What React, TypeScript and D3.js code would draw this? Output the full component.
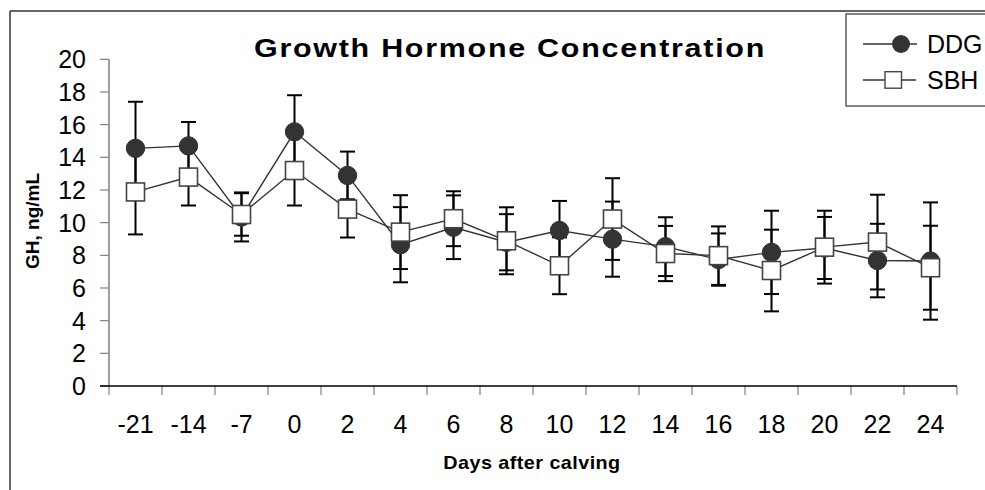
import React from "react";
import * as d3 from "d3";

const categories = ["-21", "-14", "-7", "0", "2", "4", "6", "8", "10", "12", "14", "16", "18", "20", "22", "24"];
const ddgValues = [14.55, 14.7, 10.35, 15.56, 12.89, 8.65, 9.72, 8.8, 9.52, 8.99, 8.53, 7.74, 8.18, 8.45, 7.68, 7.65];
const ddgErrors = [2.85, 1.46, 1.5, 2.24, 1.46, 2.3, 1.95, 1.72, 1.81, 2.3, 1.8, 1.6, 2.55, 1.9, 2.25, 3.59];
const sbhValues = [11.88, 12.79, 10.5, 13.19, 10.83, 9.42, 10.24, 8.89, 7.36, 10.22, 8.11, 7.98, 7.07, 8.5, 8.81, 7.24];
const sbhErrors = [2.6, 1.74, 1.3, 2.14, 1.74, 2.26, 1.68, 2.05, 1.74, 2.5, 1.69, 1.79, 2.5, 2.23, 2.9, 2.57];
const yTicks = [0, 2, 4, 6, 8, 10, 12, 14, 16, 18, 20];

const W = 985;
const H = 490;
const FONT = "'Liberation Sans', Arial, sans-serif";

export default function App() {
  const x = d3.scaleBand<string>().domain(categories).range([109, 957]).paddingInner(0).paddingOuter(0);
  const y = d3.scaleLinear().domain([0, 20]).range([386, 59.3]);
  const cx = (c: string) => (x(c) as number) + x.bandwidth() / 2;

  const line = d3
    .line<number>()
    .x((_, i) => cx(categories[i]))
    .y((d) => y(d));

  const capW = 7.5;
  const errBars = (vals: number[], errs: number[], key: string) =>
    vals.map((v, i) => {
      const px = cx(categories[i]);
      const top = y(v + errs[i]);
      const bot = y(v - errs[i]);
      return (
        <g key={key + i} stroke="#000" strokeWidth={2}>
          <line x1={px} x2={px} y1={top} y2={bot} />
          <line x1={px - capW} x2={px + capW} y1={top} y2={top} />
          <line x1={px - capW} x2={px + capW} y1={bot} y2={bot} />
        </g>
      );
    });

  const tickBoundaries = categories.map((c) => x(c) as number).concat([957]);

  return (
    <svg width={W} height={H} style={{ position: "absolute", left: 0, top: 0, background: "#fff" }}>
      <rect x={0} y={0} width={W} height={H} fill="#fff" />
      {/* outer chart border */}
      <line x1={10} x2={W + 5} y1={11} y2={11} stroke="#333" strokeWidth={1.5} />
      <line x1={10} x2={10} y1={11} y2={H + 5} stroke="#333" strokeWidth={1.5} />

      {/* title */}
      <text
        transform="translate(510,57) scale(1.15,1)"
        textAnchor="middle"
        fontFamily={FONT}
        fontWeight="bold"
        fontSize={26.5}
        letterSpacing={1.5}
        fill="#000"
      >
        Growth Hormone Concentration
      </text>

      {/* y axis */}
      <line x1={109} x2={109} y1={y(20)} y2={y(0)} stroke="#808080" strokeWidth={1.5} />
      {yTicks.map((t) => (
        <g key={"yt" + t}>
          <line x1={100} x2={109} y1={y(t)} y2={y(t)} stroke="#808080" strokeWidth={1.2} />
          <text x={86} y={y(t) + 9} textAnchor="end" fontFamily={FONT} fontSize={25} fill="#000">
            {t}
          </text>
        </g>
      ))}
      <text
        transform={`translate(39,221) rotate(-90)`}
        textAnchor="middle"
        fontFamily={FONT}
        fontWeight="bold"
        fontSize={19}
        fill="#000"
      >
        GH, ng/mL
      </text>

      {/* x axis */}
      {tickBoundaries.map((b, i) => (
        <line key={"xt" + i} x1={b} x2={b} y1={386} y2={395} stroke="#808080" strokeWidth={1.2} />
      ))}
      <line x1={100} x2={957} y1={386} y2={386} stroke="#000" strokeWidth={1.5} />
      {categories.map((c) => (
        <text key={"xl" + c} x={cx(c)} y={433} textAnchor="middle" fontFamily={FONT} fontSize={25} fill="#000">
          {c}
        </text>
      ))}
      <text
        transform="translate(532,469) scale(1.1,1)"
        textAnchor="middle"
        fontFamily={FONT}
        fontWeight="bold"
        fontSize={18}
        letterSpacing={0.4}
        fill="#000"
      >
        Days after calving
      </text>

      {/* series lines */}
      <path d={line(ddgValues) || ""} fill="none" stroke="#333" strokeWidth={1.4} />
      <path d={line(sbhValues) || ""} fill="none" stroke="#333" strokeWidth={1.4} />

      {/* error bars */}
      {errBars(ddgValues, ddgErrors, "de")}
      {errBars(sbhValues, sbhErrors, "se")}

      {/* markers */}
      {ddgValues.map((v, i) => (
        <circle key={"dm" + i} cx={cx(categories[i])} cy={y(v)} r={9.2} fill="#333" stroke="#333" strokeWidth={1} />
      ))}
      {sbhValues.map((v, i) => (
        <rect
          key={"sm" + i}
          x={cx(categories[i]) - 9}
          y={y(v) - 9}
          width={18}
          height={18}
          fill="#fff"
          stroke="#444"
          strokeWidth={1.6}
        />
      ))}

      {/* legend */}
      <rect x={846} y={14} width={200} height={92} fill="#fff" stroke="#333" strokeWidth={1.2} />
      <line x1={863} x2={917} y1={44} y2={44} stroke="#333" strokeWidth={1.4} />
      <circle cx={901} cy={44} r={9} fill="#333" />
      <text x={927} y={53} fontFamily={FONT} fontSize={25} fill="#000">
        DDG
      </text>
      <line x1={863} x2={916} y1={80} y2={80} stroke="#333" strokeWidth={1.4} />
      <rect x={885} y={71.7} width={16.5} height={16.5} fill="#fff" stroke="#444" strokeWidth={1.4} />
      <text x={927} y={89} fontFamily={FONT} fontSize={25} fill="#000">
        SBH
      </text>
    </svg>
  );
}
